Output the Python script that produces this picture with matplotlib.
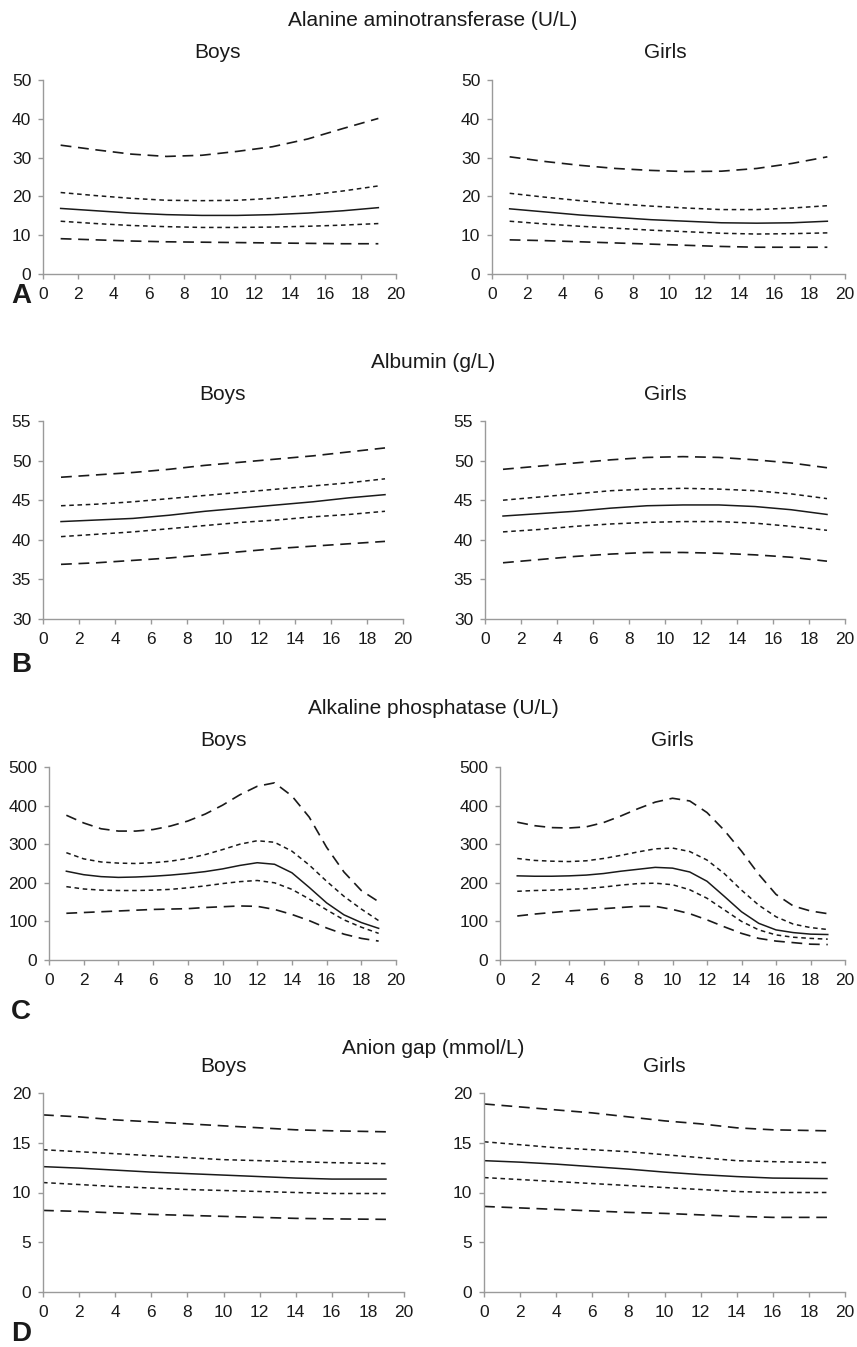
import matplotlib
matplotlib.use("Agg")
import matplotlib.pyplot as plt

plt.rcParams['font.family'] = ['Liberation Sans', 'DejaVu Sans']

# rows of every sex block: outer low, inner low, median, inner high, outer high

# A - alanine aminotransferase (U/L)
alt_age = [1, 3, 5, 7, 9, 11, 13, 15, 17, 19]
alt_boys = [
    [9.1, 8.8, 8.5, 8.3, 8.2, 8.1, 8.0, 7.9, 7.8, 7.8],
    [13.6, 13.0, 12.5, 12.2, 12.0, 12.0, 12.1, 12.3, 12.6, 13.0],
    [16.9, 16.3, 15.7, 15.3, 15.1, 15.1, 15.3, 15.7, 16.3, 17.1],
    [21.0, 20.2, 19.5, 19.0, 18.9, 19.0, 19.5, 20.3, 21.4, 22.7],
    [33.2, 32.0, 30.9, 30.3, 30.6, 31.6, 32.8, 34.8, 37.5, 40.1],
]
alt_girls = [
    [8.8, 8.6, 8.3, 8.0, 7.7, 7.4, 7.1, 6.9, 6.9, 6.9],
    [13.6, 12.9, 12.3, 11.8, 11.3, 10.9, 10.5, 10.3, 10.4, 10.6],
    [16.8, 16.0, 15.2, 14.6, 14.0, 13.6, 13.2, 13.1, 13.2, 13.6],
    [20.8, 19.8, 18.9, 18.1, 17.5, 17.0, 16.6, 16.6, 17.0, 17.6],
    [30.2, 29.0, 28.0, 27.2, 26.7, 26.4, 26.5, 27.2, 28.5, 30.2],
]

# B - albumin (g/L)
alb_age = [1, 3, 5, 7, 9, 11, 13, 15, 17, 19]
alb_boys = [
    [36.9, 37.1, 37.4, 37.7, 38.1, 38.5, 38.9, 39.2, 39.5, 39.8],
    [40.4, 40.7, 41.0, 41.4, 41.8, 42.2, 42.5, 42.9, 43.2, 43.6],
    [42.3, 42.5, 42.7, 43.1, 43.6, 44.0, 44.4, 44.8, 45.3, 45.7],
    [44.3, 44.5, 44.8, 45.2, 45.6, 46.0, 46.4, 46.8, 47.2, 47.7],
    [47.9, 48.2, 48.5, 48.9, 49.4, 49.8, 50.2, 50.6, 51.1, 51.6],
]
alb_girls = [
    [37.1, 37.5, 37.9, 38.2, 38.4, 38.4, 38.3, 38.1, 37.8, 37.3],
    [41.0, 41.3, 41.7, 42.0, 42.2, 42.3, 42.3, 42.1, 41.7, 41.2],
    [43.0, 43.3, 43.6, 44.0, 44.3, 44.4, 44.4, 44.2, 43.8, 43.2],
    [45.0, 45.4, 45.8, 46.2, 46.4, 46.5, 46.4, 46.2, 45.8, 45.2],
    [48.9, 49.3, 49.7, 50.1, 50.4, 50.5, 50.4, 50.1, 49.7, 49.1],
]

# C - alkaline phosphatase (U/L)
alp_age = list(range(1, 20))
alp_boys = [
    [121, 123, 125, 127, 129, 131, 132, 133, 136, 138, 140, 139, 131, 118, 102, 83, 67, 56, 49],
    [190, 184, 181, 180, 180, 181, 183, 187, 192, 198, 203, 206, 200, 183, 158, 130, 104, 85, 69],
    [230, 221, 216, 214, 215, 217, 220, 224, 229, 236, 245, 252, 248, 226, 188, 148, 117, 97, 82],
    [278, 262, 254, 251, 250, 252, 256, 263, 273, 286, 300, 309, 305, 282, 246, 204, 165, 132, 102],
    [375, 355, 340, 334, 334, 338, 347, 360, 378, 401, 428, 450, 459, 425, 370, 292, 228, 180, 151],
]
alp_girls = [
    [114, 119, 123, 127, 130, 133, 136, 139, 139, 131, 120, 104, 86, 69, 56, 49, 45, 41, 40],
    [178, 180, 181, 183, 185, 189, 194, 198, 199, 195, 182, 160, 130, 100, 78, 65, 59, 56, 54],
    [218, 217, 217, 218, 220, 224, 230, 235, 240, 238, 228, 204, 165, 125, 95, 78, 71, 67, 66],
    [263, 258, 256, 255, 257, 263, 271, 280, 288, 290, 281, 259, 224, 181, 142, 112, 93, 84, 79],
    [357, 348, 343, 342, 345, 356, 373, 392, 409, 419, 412, 382, 336, 282, 222, 170, 140, 127, 120],
]

# D - anion gap (mmol/L)
ag_age = [0, 2, 4, 6, 8, 10, 12, 14, 16, 19]
ag_boys = [
    [8.2, 8.1, 7.95, 7.8, 7.7, 7.6, 7.5, 7.4, 7.35, 7.3],
    [11.0, 10.8, 10.6, 10.45, 10.3, 10.2, 10.1, 10.0, 9.9, 9.9],
    [12.6, 12.45, 12.25, 12.05, 11.9, 11.75, 11.6, 11.45, 11.35, 11.35],
    [14.3, 14.1, 13.9, 13.7, 13.5, 13.3, 13.2, 13.1, 13.0, 12.9],
    [17.8, 17.6, 17.3, 17.1, 16.9, 16.7, 16.5, 16.3, 16.2, 16.1],
]
ag_girls = [
    [8.6, 8.45, 8.3, 8.15, 8.0, 7.9, 7.75, 7.6, 7.5, 7.5],
    [11.5, 11.3, 11.1, 10.9, 10.7, 10.5, 10.3, 10.1, 10.0, 10.0],
    [13.2, 13.05, 12.85, 12.6, 12.35, 12.05, 11.8, 11.6, 11.45, 11.4],
    [15.1, 14.8, 14.5, 14.3, 14.1, 13.8, 13.5, 13.2, 13.1, 13.0],
    [18.9, 18.6, 18.3, 18.0, 17.6, 17.2, 16.9, 16.5, 16.3, 16.2],
]

panel_titles = ["Alanine aminotransferase (U/L)", "Albumin (g/L)",
                "Alkaline phosphatase (U/L)", "Anion gap (mmol/L)"]
panel_letters = ["A", "B", "C", "D"]
sex_titles = ["Boys", "Girls"]
x_ticks = list(range(0, 21, 2))

W, H = 857, 1347
fig = plt.figure(figsize=(W / 100, H / 100), dpi=100)

INK = "#1a1a1a"
SPINE = "#9a9a9a"

# line styles for the five curves (outer, inner, median, inner, outer)
OUTER = dict(color=INK, lw=1.2, dashes=(6.5, 4))
INNER = dict(color=INK, lw=1.1, dashes=(3, 2.4))
MEDIAN = dict(color=INK, lw=1.1, linestyle="-")
curve_styles = [OUTER, INNER, MEDIAN, INNER, OUTER]


def px_axes(left, top, right, bottom):
    return fig.add_axes([left / W, 1 - bottom / H, (right - left) / W, (bottom - top) / H])


def fig_text(x, y, s, **kw):
    fig.text(x / W, 1 - y / H, s, ha="center", va="center", color=INK, **kw)


def draw(ax, age, curves, ylim, ystep):
    for vals, st in zip(curves, curve_styles):
        ax.plot(age, vals, **st)
    ax.set_xlim(0, 20)
    ax.set_ylim(*ylim)
    ax.set_xticks(x_ticks)
    ax.set_yticks(range(ylim[0], ylim[1] + 1, ystep))
    for side in ("top", "right"):
        ax.spines[side].set_visible(False)
    for side in ("left", "bottom"):
        ax.spines[side].set_color(SPINE)
        ax.spines[side].set_linewidth(1.0)
    ax.tick_params(direction="out", length=3.5, width=1.0, color=SPINE,
                   labelcolor=INK, labelsize=12.5, pad=5)
    ax.tick_params(axis="x", pad=6)
    ax.patch.set_alpha(0)


panels = [
    (alt_age, alt_boys, alt_girls, (0, 50), 10),
    (alb_age, alb_boys, alb_girls, (30, 55), 5),
    (alp_age, alp_boys, alp_girls, (0, 500), 100),
    (ag_age, ag_boys, ag_girls, (0, 20), 5),
]

# pixel boxes (left, top, right, bottom) for boys / girls axes
boxes = [
    [(43, 80, 396, 274), (492, 80, 845, 274)],
    [(43, 421, 403, 619), (485, 421, 845, 619)],
    [(49, 767, 396, 960), (500, 767, 845, 960)],
    [(43, 1093, 404, 1292), (484, 1093, 845, 1292)],
]
title_y = [20, 363, 708, 1048]
sub_y = [53, 395, 740, 1066]
letter_y = [296, 665, 1012, 1334]
sub_x = [(217, 665), (223, 665), (224, 672), (224, 664)]

for i, (age, boys, girls, ylim, ystep) in enumerate(panels):
    for j, curves in enumerate([boys, girls]):
        ax = px_axes(*boxes[i][j])
        draw(ax, age, curves, ylim, ystep)
        fig_text(sub_x[i][j], sub_y[i], sex_titles[j], fontsize=15)
    fig_text(433, title_y[i], panel_titles[i], fontsize=15)
    fig.text(11 / W, 1 - letter_y[i] / H, panel_letters[i], ha="left", va="center",
             fontsize=20, fontweight="bold", color=INK)

fig.savefig("out.png", dpi=100)
